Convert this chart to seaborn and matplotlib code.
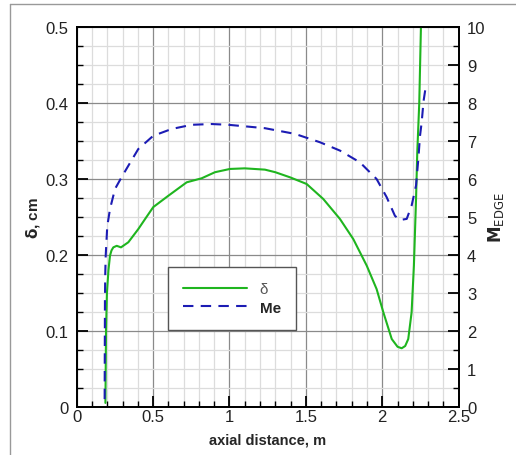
import matplotlib
matplotlib.use("Agg")
import matplotlib.pyplot as plt
import seaborn as sns
import pandas as pd
from matplotlib.lines import Line2D
from matplotlib.ticker import MultipleLocator

# boundary-layer thickness along the axis
delta_x = [0.188, 0.190, 0.192, 0.198, 0.208, 0.218, 0.228, 0.240, 0.262, 0.290,
           0.338, 0.403, 0.450, 0.501, 0.600, 0.720, 0.818, 0.905, 1.003, 1.100,
           1.232, 1.300, 1.396, 1.505, 1.614, 1.723, 1.810, 1.898, 1.963, 2.007,
           2.062, 2.100, 2.127, 2.150, 2.170, 2.192, 2.207, 2.221, 2.229, 2.242,
           2.253, 2.260]
delta_cm = [0.005, 0.050, 0.100, 0.150, 0.180, 0.199, 0.206, 0.210, 0.212, 0.210,
            0.2167, 0.234, 0.248, 0.263, 0.278, 0.2957, 0.301, 0.309, 0.3133, 0.3141,
            0.3124, 0.309, 0.3023, 0.2935, 0.2737, 0.2474, 0.221, 0.186, 0.155, 0.1244,
            0.0892, 0.079, 0.077, 0.080, 0.0892, 0.1244, 0.186, 0.2737, 0.335, 0.400,
            0.500, 0.550]

# edge Mach number along the axis
mach_x = [0.183, 0.184, 0.185, 0.187, 0.190, 0.200, 0.218, 0.251, 0.294, 0.338,
          0.403, 0.501, 0.622, 0.753, 0.883, 0.992, 1.100, 1.232, 1.429, 1.592,
          1.723, 1.854, 1.963, 2.029, 2.083, 2.116, 2.160, 2.192, 2.221, 2.236,
          2.247, 2.258, 2.270, 2.282]
mach_edge = [0.20, 1.50, 2.80, 3.50, 3.98, 4.75, 5.21, 5.74, 6.05, 6.35,
             6.79, 7.14, 7.32, 7.43, 7.45, 7.43, 7.39, 7.34, 7.19, 6.97,
             6.75, 6.44, 6.00, 5.52, 5.03, 4.92, 4.95, 5.30, 5.83, 6.53,
             7.14, 7.50, 8.05, 8.37]

x_ticks = [0, 0.5, 1, 1.5, 2, 2.5]
x_tick_labels = ["0", "0.5", "1", "1.5", "2", "2.5"]
y_ticks = [0, 0.1, 0.2, 0.3, 0.4, 0.5]
y_tick_labels = ["0", "0.1", "0.2", "0.3", "0.4", "0.5"]
mach_ticks = list(range(0, 11))

GREEN = "#1fb51f"
BLUE = "#1c1cb4"

sns.set_theme(style="white")
plt.rcParams["font.family"] = ["Liberation Sans", "DejaVu Sans"]

fig = plt.figure(figsize=(5.16, 4.56), dpi=100)
ax = fig.add_axes([0.1486, 0.1059, 0.7403, 0.8321])
ax2 = ax.twinx()

df_d = pd.DataFrame({"x": delta_x, "d": delta_cm})
df_m = pd.DataFrame({"x": mach_x, "m": mach_edge})

sns.lineplot(data=df_d, x="x", y="d", ax=ax, sort=False, estimator=None,
             color=GREEN, linewidth=1.5, zorder=3)
sns.lineplot(data=df_m, x="x", y="m", ax=ax2, sort=False, estimator=None,
             color=BLUE, linewidth=1.5, dashes=False, zorder=3)
ax.lines[0].set_solid_joinstyle("round")
ax2.lines[0].set_dashes([5, 3.5])

ax.set_xlim(0, 2.5)
ax.set_ylim(0, 0.5)
ax2.set_ylim(0, 10)

# grid
ax.xaxis.set_minor_locator(MultipleLocator(0.1))
ax.yaxis.set_minor_locator(MultipleLocator(0.025))
ax.grid(which="major", color="#8a8a8a", linewidth=0.9)
ax.grid(which="minor", color="#dcdcdc", linewidth=0.9)
ax.set_axisbelow(True)

ax.set_xticks(x_ticks)
ax.set_xticklabels(x_tick_labels)
ax.set_yticks(y_ticks)
ax.set_yticklabels(y_tick_labels)
ax2.set_yticks(mach_ticks)
ax2.set_yticklabels([str(t) for t in mach_ticks])
ax2.yaxis.set_minor_locator(MultipleLocator(0.5))

for a in (ax, ax2):
    for s in a.spines.values():
        s.set_color("black")
        s.set_linewidth(1.3)
        s.set_visible(True)

ax.tick_params(which="major", direction="in", length=8, width=1.3, color="black",
               labelsize=12, labelcolor="#222222", top=False, right=False,
               bottom=True, left=True)
ax.tick_params(which="minor", direction="in", length=4, width=1.0, color="black",
               bottom=True, left=True)
ax.tick_params(axis="x", pad=2)
ax.tick_params(axis="y", pad=6)
ax2.tick_params(which="major", direction="in", length=8, width=1.3, color="black",
                labelsize=12, labelcolor="#222222", right=True, pad=6)
ax2.tick_params(which="minor", direction="in", length=4, width=1.0, color="black",
                right=True)
ax2.grid(False)

ax.set_xlabel("axial distance, m", fontsize=10.5, fontweight="bold", labelpad=6)
ax.set_ylabel(r"$\mathbf{\delta}$, cm", fontsize=11, fontweight="bold", labelpad=2)
ax2.set_ylabel(r"$\mathbf{M}_{\mathrm{EDGE}}$", fontsize=12, rotation=90, labelpad=0)

handles = [Line2D([], [], color=GREEN, linewidth=1.5),
           Line2D([], [], color=BLUE, linewidth=1.5, dashes=[5, 3.5])]
leg = ax.legend(handles, ["δ", "Me"], loc="lower left",
                bbox_to_anchor=(0.239, 0.202), fontsize=11, handlelength=4.2,
                frameon=True, fancybox=False, framealpha=1, borderpad=1.0,
                labelspacing=0.3, handletextpad=0.8, borderaxespad=0)
leg.get_frame().set_edgecolor("#555555")
leg.get_frame().set_linewidth(1.0)
leg.get_texts()[1].set_fontweight("bold")
leg.get_texts()[0].set_color("#555555")
leg.set_zorder(5)

# thin outer frame along top and left edges
fig.add_artist(Line2D([10 / 516, 1.0], [1 - 5 / 456, 1 - 5 / 456],
                      transform=fig.transFigure, color="#999999", linewidth=1.0))
fig.add_artist(Line2D([10 / 516, 10 / 516], [0, 1 - 5 / 456],
                      transform=fig.transFigure, color="#999999", linewidth=1.0))

fig.savefig("out.png", dpi=100)
